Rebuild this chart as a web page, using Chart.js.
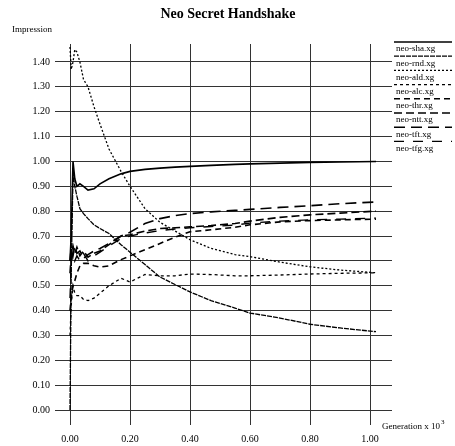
<!DOCTYPE html>
<html>
<head>
<meta charset="utf-8">
<script src="https://cdn.jsdelivr.net/npm/chart.js@4.4.1/dist/chart.umd.min.js"></script>
<style>
  html, body { margin: 0; padding: 0; background: #fff; }
  #wrap { width: 455px; height: 446px; }
</style>
</head>
<body>
<div id="wrap"><canvas id="chart" width="455" height="446"></canvas></div>
<script>
// generation (x 10^3) sample points shared by every run
const generations = [0, 0.004, 0.01, 0.016, 0.023, 0.033, 0.045, 0.06, 0.08, 0.1, 0.13, 0.17, 0.2, 0.25, 0.3, 0.35, 0.4, 0.47, 0.55, 0.6, 0.7, 0.8, 0.9, 1.02];

const neoSha = [0.60, 0.70, 1.00, 0.93, 0.90, 0.91, 0.90, 0.885, 0.89, 0.91, 0.93, 0.95, 0.96, 0.968, 0.973, 0.977, 0.98, 0.984, 0.988, 0.99, 0.993, 0.996, 0.998, 1.00];
const neoRnd = [0.00, 0.55, 0.95, 0.90, 0.86, 0.81, 0.79, 0.77, 0.745, 0.73, 0.71, 0.665, 0.635, 0.585, 0.535, 0.505, 0.475, 0.44, 0.41, 0.39, 0.37, 0.345, 0.33, 0.315];
const neoAld = [1.46, 1.37, 1.40, 1.45, 1.44, 1.40, 1.33, 1.30, 1.22, 1.15, 1.05, 0.96, 0.90, 0.81, 0.755, 0.72, 0.685, 0.65, 0.625, 0.617, 0.595, 0.576, 0.563, 0.552];
const neoAlc = [0.30, 0.42, 0.50, 0.47, 0.46, 0.46, 0.445, 0.44, 0.45, 0.47, 0.50, 0.53, 0.515, 0.545, 0.54, 0.54, 0.547, 0.545, 0.54, 0.54, 0.543, 0.547, 0.55, 0.552];
const neoThr = [0.40, 0.45, 0.50, 0.52, 0.55, 0.58, 0.59, 0.59, 0.58, 0.575, 0.58, 0.605, 0.62, 0.645, 0.67, 0.695, 0.717, 0.725, 0.735, 0.745, 0.757, 0.762, 0.765, 0.768];
const neoNtt = [0.55, 0.62, 0.66, 0.63, 0.655, 0.62, 0.64, 0.615, 0.63, 0.64, 0.665, 0.70, 0.705, 0.72, 0.73, 0.733, 0.737, 0.742, 0.75, 0.76, 0.775, 0.785, 0.792, 0.80];
const neoTft = [0.60, 0.65, 0.62, 0.66, 0.63, 0.64, 0.61, 0.625, 0.64, 0.65, 0.67, 0.70, 0.715, 0.75, 0.77, 0.782, 0.79, 0.797, 0.803, 0.807, 0.815, 0.822, 0.83, 0.837];
const neoTfg = [0.45, 0.58, 0.64, 0.60, 0.62, 0.60, 0.63, 0.60, 0.62, 0.635, 0.66, 0.69, 0.70, 0.712, 0.722, 0.728, 0.733, 0.738, 0.744, 0.752, 0.76, 0.765, 0.768, 0.772];

const seriesNames = ['neo-sha.xg', 'neo-rnd.xg', 'neo-ald.xg', 'neo-alc.xg', 'neo-thr.xg', 'neo-ntt.xg', 'neo-tft.xg', 'neo-tfg.xg'];
const seriesValues = [neoSha, neoRnd, neoAld, neoAlc, neoThr, neoNtt, neoTft, neoTfg];

const xTicks = [0, 0.2, 0.4, 0.6, 0.8, 1.0];
const yTicks = [0, 0.1, 0.2, 0.3, 0.4, 0.5, 0.6, 0.7, 0.8, 0.9, 1.0, 1.1, 1.2, 1.3, 1.4];

// line look per run (plot, legend)
const lineStyles = [
  { width: 1.6, dash: [] },
  { width: 1.3, dash: [5, 1] },
  { width: 1.3, dash: [2, 2] },
  { width: 1.3, dash: [3, 3] },
  { width: 1.6, dash: [6, 4] },
  { width: 1.6, dash: [8, 4] },
  { width: 1.6, dash: [11, 6] },
  { width: 1.4, dash: [10, 9] }
];

const SERIF = '"Liberation Serif", "DejaVu Serif", serif';

const datasets = seriesNames.map((name, i) => ({
  label: name,
  data: generations.map((g, j) => ({ x: g, y: seriesValues[i][j] })),
  borderColor: '#000',
  borderWidth: lineStyles[i].width,
  borderDash: lineStyles[i].dash,
  pointRadius: 0,
  tension: 0,
  fill: false
}));

// title, axis names and the stacked legend at the right
const extras = {
  id: 'extras',
  afterDraw(chart) {
    const ctx = chart.ctx;
    ctx.save();
    ctx.fillStyle = '#000';
    ctx.textBaseline = 'middle';

    ctx.font = 'bold 14px ' + SERIF;
    ctx.textAlign = 'center';
    ctx.fillText('Neo Secret Handshake', 228, 14);

    ctx.font = '9px ' + SERIF;
    ctx.textAlign = 'left';
    ctx.fillText('Impression', 12, 30);

    ctx.fillText('Generation x 10', 382, 427);
    const w = ctx.measureText('Generation x 10').width;
    ctx.font = '7px ' + SERIF;
    ctx.fillText('3', 382 + w + 1, 422);

    ctx.font = '9px ' + SERIF;
    seriesNames.forEach((name, i) => {
      const yLine = 42 + i * 14.2;
      ctx.beginPath();
      ctx.lineWidth = lineStyles[i].width;
      ctx.setLineDash(lineStyles[i].dash);
      ctx.strokeStyle = '#000';
      ctx.moveTo(394, yLine);
      ctx.lineTo(452, yLine);
      ctx.stroke();
      ctx.setLineDash([]);
      ctx.fillText(name, 396, yLine + 7);
    });
    ctx.restore();
  }
};

new Chart(document.getElementById('chart'), {
  type: 'line',
  data: { datasets: datasets },
  options: {
    responsive: false,
    animation: false,
    layout: { padding: { top: 44, right: 63, left: 0, bottom: 0 } },
    plugins: { legend: { display: false }, tooltip: { enabled: false } },
    scales: {
      x: {
        type: 'linear',
        min: -0.05,
        max: 1.0733,
        afterBuildTicks: (axis) => { axis.ticks = xTicks.map(v => ({ value: v })); },
        afterFit: (axis) => { axis.height = 21; },
        grid: { color: '#333', lineWidth: 1, drawTicks: false },
        border: { display: false },
        ticks: { color: '#000', padding: 8, maxRotation: 0, font: { family: SERIF, size: 10 }, callback: v => v.toFixed(2) }
      },
      y: {
        min: -0.0603,
        max: 1.4724,
        afterBuildTicks: (axis) => { axis.ticks = yTicks.map(v => ({ value: v })); },
        afterFit: (axis) => { axis.width = 55; },
        grid: { color: '#333', lineWidth: 1, drawTicks: false },
        border: { display: false },
        ticks: { color: '#000', padding: 5, font: { family: SERIF, size: 10 }, callback: v => v.toFixed(2) }
      }
    }
  },
  plugins: [extras]
});
</script>
</body>
</html>
